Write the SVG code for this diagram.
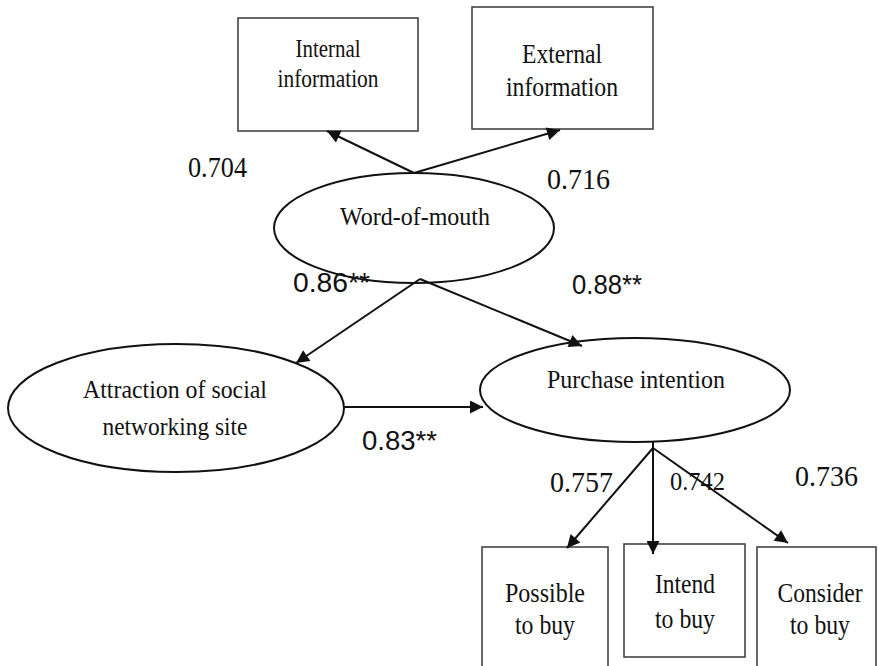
<svg xmlns="http://www.w3.org/2000/svg" width="878" height="666" viewBox="0 0 878 666">
<style>
.box{fill:#fff;stroke:#444;stroke-width:1.6}
.ell{fill:#fff;stroke:#111;stroke-width:2}
.t{font-family:'Liberation Serif','Times New Roman',serif;fill:#111;text-anchor:middle}
.n{font-family:'Liberation Serif','Times New Roman',serif;fill:#111}
.s{font-family:'Liberation Sans',Arial,sans-serif;fill:#111}
.c{stroke:#111;stroke-width:2;fill:none;marker-end:url(#ah)}
</style>
<defs>
<marker id="ah" viewBox="0 0 10 10" refX="10" refY="5" markerUnits="userSpaceOnUse" markerWidth="16" markerHeight="13" orient="auto">
<path d="M0,0 L10,5 L0,10 z" fill="#111"/>
</marker>
</defs>
<rect width="878" height="666" fill="#fff"/>
<g id="internal">
<rect class="box" x="238" y="18" width="180" height="113"/>
<text class="t" x="328" y="57" font-size="25" textLength="65" lengthAdjust="spacingAndGlyphs">Internal</text>
<text class="t" x="328" y="87" font-size="25" textLength="101" lengthAdjust="spacingAndGlyphs">information</text>
</g>
<g id="external">
<rect class="box" x="472" y="7" width="181" height="122"/>
<text class="t" x="562" y="63" font-size="28" textLength="80" lengthAdjust="spacingAndGlyphs">External</text>
<text class="t" x="562" y="96" font-size="28" textLength="112" lengthAdjust="spacingAndGlyphs">information</text>
</g>
<g id="wom">
<ellipse class="ell" cx="414" cy="228" rx="140" ry="55"/>
<text class="t" x="415" y="225" font-size="26" textLength="150" lengthAdjust="spacingAndGlyphs">Word-of-mouth</text>
</g>
<g id="attraction">
<ellipse class="ell" cx="176" cy="408" rx="168" ry="64"/>
<text class="t" x="175" y="398" font-size="25" textLength="184" lengthAdjust="spacingAndGlyphs">Attraction of social</text>
<text class="t" x="175" y="435" font-size="25" textLength="145" lengthAdjust="spacingAndGlyphs">networking site</text>
</g>
<g id="purchase">
<ellipse class="ell" cx="635" cy="390" rx="155" ry="52"/>
<text class="t" x="636" y="388" font-size="26" textLength="178" lengthAdjust="spacingAndGlyphs">Purchase intention</text>
</g>
<g id="possible">
<rect class="box" x="482" y="547" width="126" height="130"/>
<text class="t" x="545" y="602" font-size="27" textLength="80" lengthAdjust="spacingAndGlyphs">Possible</text>
<text class="t" x="545" y="634" font-size="27" textLength="60" lengthAdjust="spacingAndGlyphs">to buy</text>
</g>
<g id="intend">
<rect class="box" x="624" y="544" width="121" height="113"/>
<text class="t" x="685" y="593" font-size="27" textLength="60" lengthAdjust="spacingAndGlyphs">Intend</text>
<text class="t" x="685" y="628" font-size="27" textLength="60" lengthAdjust="spacingAndGlyphs">to buy</text>
</g>
<g id="consider">
<rect class="box" x="757" y="547" width="119" height="130"/>
<text class="t" x="820" y="602" font-size="27" textLength="85" lengthAdjust="spacingAndGlyphs">Consider</text>
<text class="t" x="820" y="634" font-size="27" textLength="60" lengthAdjust="spacingAndGlyphs">to buy</text>
</g>
<g id="connectors">
<line class="c" x1="414" y1="173" x2="327" y2="131"/>
<line class="c" x1="414" y1="173" x2="560" y2="130"/>
<line class="c" x1="420" y1="279" x2="296" y2="363"/>
<line class="c" x1="420" y1="279" x2="582" y2="346"/>
<line class="c" x1="343" y1="407" x2="483" y2="407"/>
<line class="c" x1="653" y1="442" x2="653" y2="554"/>
<line class="c" x1="653" y1="448" x2="567" y2="548"/>
<line class="c" x1="653" y1="448" x2="788" y2="543"/>
</g>
<g id="labels">
<text class="n" x="188" y="177" font-size="29" textLength="59" lengthAdjust="spacingAndGlyphs">0.704</text>
<text class="n" x="547" y="189" font-size="30" textLength="63" lengthAdjust="spacingAndGlyphs">0.716</text>
<text class="s" x="293" y="292" font-size="28" textLength="77" lengthAdjust="spacingAndGlyphs">0.86**</text>
<text class="s" x="572" y="294" font-size="28" textLength="70" lengthAdjust="spacingAndGlyphs">0.88**</text>
<text class="s" x="362" y="450" font-size="28" textLength="75" lengthAdjust="spacingAndGlyphs">0.83**</text>
<text class="n" x="550" y="492" font-size="30" textLength="63" lengthAdjust="spacingAndGlyphs">0.757</text>
<text class="n" x="670" y="490" font-size="26" textLength="55" lengthAdjust="spacingAndGlyphs">0.742</text>
<text class="n" x="795" y="486" font-size="30" textLength="63" lengthAdjust="spacingAndGlyphs">0.736</text>
</g>
</svg>
